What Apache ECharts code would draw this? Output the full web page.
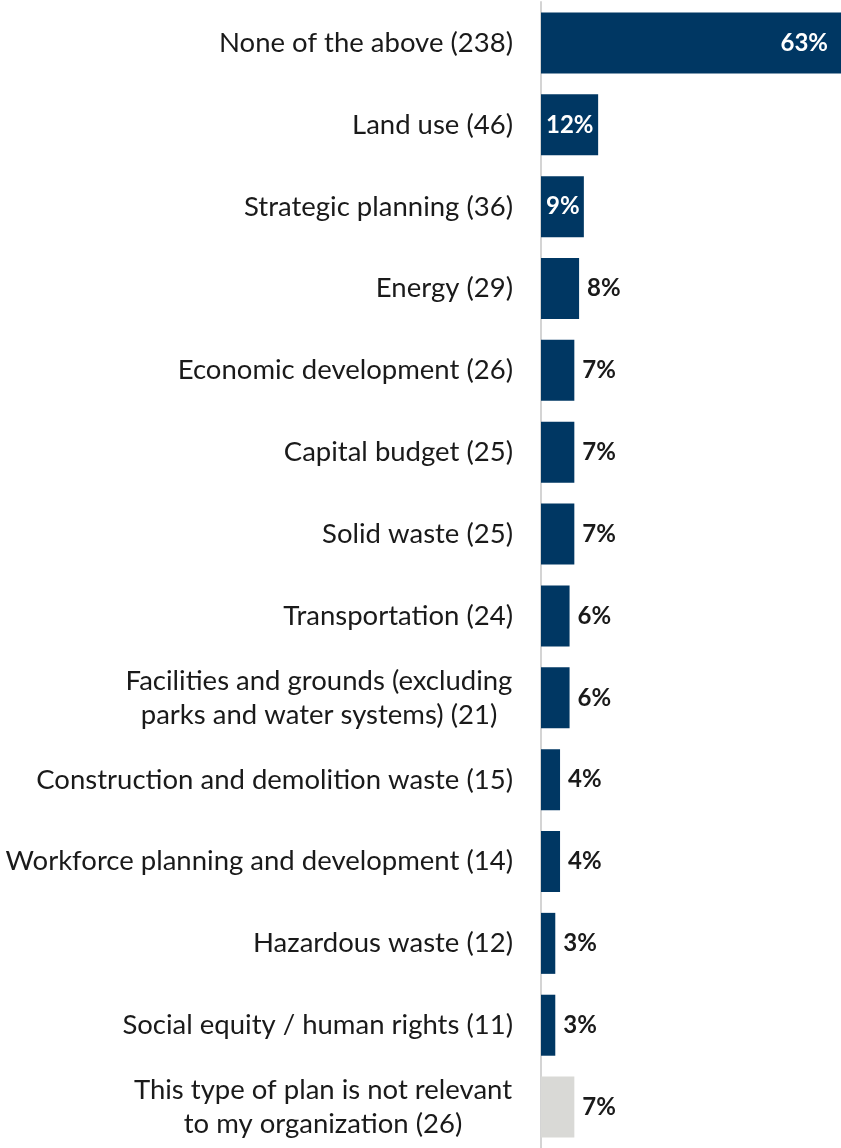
<!DOCTYPE html>
<html>
<head>
<meta charset="utf-8">
<script src="https://cdn.jsdelivr.net/npm/echarts@6/dist/echarts.min.js"></script>
<style>
  html, body { margin: 0; padding: 0; background: #ffffff; }
  #chart { width: 841px; height: 1148px; }
</style>
</head>
<body>
<div id="chart"></div>
<script>
// Plan types, with respondent counts in the label text
const categories = [
  'None of the above (238)',
  'Land use (46)',
  'Strategic planning (36)',
  'Energy (29)',
  'Economic development (26)',
  'Capital budget (25)',
  'Solid waste (25)',
  'Transportation (24)',
  'Facilities and grounds (excluding\nparks and water systems) (21)',
  'Construction and demolition waste (15)',
  'Workforce planning and development (14)',
  'Hazardous waste (12)',
  'Social equity / human rights (11)',
  'This type of plan is not relevant\nto my organization (26)'
];
// Share of respondents, percent
const percents = [63, 12, 9, 8, 7, 7, 7, 6, 6, 4, 4, 3, 3, 7];
// Bars that carry their label inside (white text)
const insideLabels = ['None of the above (238)', 'Land use (46)', 'Strategic planning (36)'];
// Answer that is shown in a neutral colour
const neutralCategory = 'This type of plan is not relevant\nto my organization (26)';

const NAVY = '#003763';
const GREY = '#d9d9d6';
const TEXT = '#1a1a1a';
const LABEL_FONT = 'Lato, "Open Sans", sans-serif';
const LABEL_SIZE = 27.5;

// Multi-line category labels are centred line by line inside a right-aligned block
const measureCtx = document.createElement('canvas').getContext('2d');
measureCtx.font = LABEL_SIZE + 'px ' + LABEL_FONT;
const rich = {};
categories.forEach((c, i) => {
  if (c.indexOf('\n') >= 0) {
    const w = Math.max(...c.split('\n').map(s => measureCtx.measureText(s).width));
    rich['c' + i] = { width: Math.ceil(w) + 1, align: 'center', fontSize: LABEL_SIZE,
      fontFamily: LABEL_FONT, color: TEXT, lineHeight: 34 };
  }
});

const seriesData = percents.map((v, i) => {
  const name = categories[i];
  const inside = insideLabels.indexOf(name) >= 0;
  const item = {
    value: v,
    itemStyle: { color: name === neutralCategory ? GREY : NAVY }
  };
  if (inside) {
    item.label = i === 0
      ? { position: 'insideRight', distance: 13, color: '#ffffff' }
      : { position: 'insideLeft', distance: 5, color: '#ffffff' };
  }
  return item;
});

const chart = echarts.init(document.getElementById('chart'), null, { renderer: 'canvas' });
chart.setOption({
  animation: false,
  backgroundColor: '#ffffff',
  grid: { left: 541, right: 0, top: 2, height: 1151, containLabel: false },
  xAxis: {
    type: 'value',
    min: 0,
    max: 63,
    show: false
  },
  yAxis: {
    type: 'category',
    inverse: true,
    data: categories,
    axisLine: { show: true, lineStyle: { color: '#d4d4d4', width: 2 } },
    axisTick: { show: false },
    axisLabel: {
      margin: 28,
      fontSize: LABEL_SIZE,
      fontFamily: LABEL_FONT,
      color: TEXT,
      lineHeight: 34,
      align: 'right',
      rich: rich,
      formatter: (value, index) => {
        if (rich['c' + index]) {
          return value.split('\n').map(s => '{c' + index + '|' + s + '}').join('\n');
        }
        return value;
      }
    }
  },
  series: [{
    type: 'bar',
    data: seriesData,
    barWidth: 61,
    label: {
      show: true,
      position: 'right',
      distance: 8,
      formatter: '{c}%',
      fontFamily: LABEL_FONT,
      fontWeight: 'bold',
      fontSize: 24,
      color: TEXT
    }
  }]
});
</script>
</body>
</html>
